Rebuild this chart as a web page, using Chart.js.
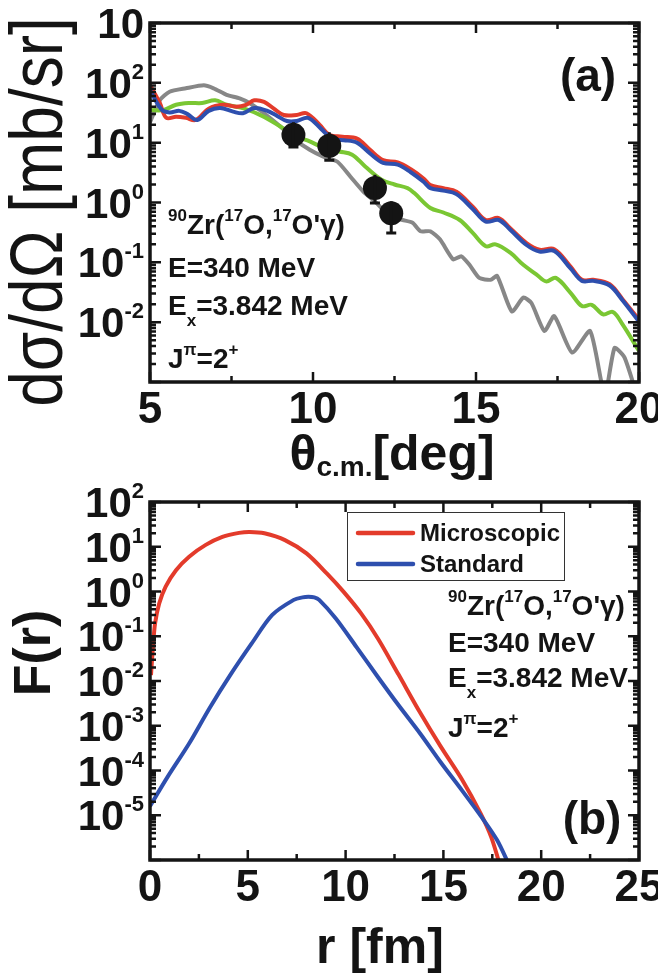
<!DOCTYPE html>
<html lang="en">
<head>
<meta charset="UTF-8">
<title>90Zr(17O,17O'γ) E=340 MeV</title>
<script src="https://cdn.jsdelivr.net/npm/chart.js"></script>
<style>
    body { margin: 0; background: #fff; }
    #wrap { position: relative; width: 658px; height: 979px; }
    canvas { position: absolute; left: 0; top: 0; }
</style>
</head>
<body>
<div id="wrap">
    <canvas id="chartA" width="658" height="979"></canvas>
    <canvas id="chartB" width="658" height="979"></canvas>
</div>
<script>
// ---------- panel (a): angular distribution, dsigma/dOmega [mb/sr] ----------
const thetaRed = [5.0, 5.3, 5.5, 5.8, 6.1, 6.4, 6.8, 7.25, 7.65, 7.95, 8.2, 8.5, 8.8, 9.1, 9.5, 9.8, 10.2, 10.5, 10.9, 11.35,
    11.75, 12.15, 12.6, 13.0, 13.4, 13.6, 14.0, 14.4, 14.9, 15.3, 15.7, 16.05, 16.55, 16.95, 17.4, 17.9, 18.25, 18.6, 19.1, 19.5, 20.0];
const sigmaRed = [91, 46, 26, 27, 26, 24, 37, 43, 40, 43, 51, 48, 37, 29, 29, 31, 20, 13.5, 12.6, 11.7,
    7.6, 5.1, 4.7, 3.6, 2.5, 1.95, 1.74, 1.51, 0.85, 0.51, 0.55, 0.37, 0.21, 0.162, 0.166, 0.085, 0.051, 0.051, 0.043, 0.024, 0.011];

const thetaBlue = [5.0, 5.35, 5.6, 5.9, 6.15, 6.45, 6.8, 7.15, 7.55, 7.85, 8.2, 8.6, 8.9, 9.2, 9.5, 9.85, 10.25, 10.6, 10.95, 11.35,
    11.75, 12.15, 12.6, 13.0, 13.4, 13.6, 14.0, 14.4, 14.9, 15.3, 15.7, 16.05, 16.55, 16.95, 17.4, 17.9, 18.25, 18.6, 19.1, 19.5, 20.0];
const sigmaBlue = [76, 36, 32, 34, 30, 24, 34, 38, 33, 31, 38, 34, 28, 23, 23, 26, 17, 11.5, 11, 10,
    6.6, 4.6, 4.3, 3.2, 2.2, 1.74, 1.58, 1.38, 0.78, 0.48, 0.51, 0.35, 0.195, 0.151, 0.155, 0.079, 0.049, 0.049, 0.041, 0.023, 0.0102];

const thetaGreen = [5.0, 5.4, 5.8, 6.2, 6.6, 7.0, 7.35, 7.9, 8.5, 9.0, 9.5, 9.9, 10.35, 10.8, 11.2, 11.6, 12.1, 12.5, 12.9, 13.1,
    13.6, 14.0, 14.5, 14.9, 15.3, 15.6, 16.05, 16.45, 16.85, 17.15, 17.45, 17.9, 18.25, 18.55, 18.9, 19.2, 19.5, 20.0];
const sigmaGreen = [35, 35, 43, 46, 46, 51, 43, 37, 27, 18.6, 12.6, 10.5, 8.1, 7.1, 6.3, 4.0, 2.4, 2.0, 1.74, 1.45,
    0.81, 0.68, 0.51, 0.31, 0.186, 0.2, 0.145, 0.091, 0.063, 0.048, 0.055, 0.031, 0.0186, 0.0195, 0.0135, 0.0148, 0.0091, 0.0033];

const thetaGray = [5.0, 5.3, 5.6, 6.1, 6.65, 6.95, 7.35, 7.75, 8.05, 8.5, 9.0, 9.4, 9.9, 10.3, 10.75, 11.15, 11.55, 11.95, 12.35, 12.75,
    13.05, 13.3, 13.6, 13.9, 14.3, 14.55, 14.8, 15.1, 15.45, 15.65, 16.1, 16.45, 16.7, 17.1, 17.4, 17.95, 18.5, 18.95, 19.25, 19.55, 19.9, 20.0];
const sigmaGray = [22, 51, 71, 81, 91, 81, 63, 55, 46, 31, 18.6, 11.7, 7.6, 5.9, 4.8, 2.7, 1.51, 0.98, 0.59, 0.51,
    0.46, 0.33, 0.33, 0.24, 0.112, 0.126, 0.091, 0.055, 0.051, 0.059, 0.0151, 0.0257, 0.0209, 0.0071, 0.0126, 0.0031, 0.0071, 0.0006, 0.0037, 0.0026, 0.0007, 0.0005];

// measured points with error bars
const thetaExp = [9.4, 10.5, 11.9, 12.4];
const sigmaExp = [13.5, 8.9, 1.74, 0.66];
const sigmaExpHi = [22, 15, 2.9, 1.05];
const sigmaExpLo = [8.5, 5.1, 0.98, 0.31];

const thetaTicks = [5, 10, 15, 20];
const sigmaTicks = [1e3, 1e2, 1e1, 1, 1e-1, 1e-2];
const sigmaTickExps = ['', '2', '1', '0', '-1', '-2'];

// ---------- panel (b): form factors F(r) ----------
const rMicro = [0.05, 0.15, 0.26, 0.47, 0.8, 1.33, 2.0, 2.85, 3.7, 4.55, 5.1, 5.85, 6.9, 8.0, 9.05, 9.9, 10.8, 11.65, 12.7, 13.8,
    14.85, 15.95, 16.9, 17.45, 17.95];
const fMicro = [0.0135, 0.058, 0.195, 0.54, 1.29, 3.0, 6.0, 11, 16.6, 20.4, 21.4, 20, 14.1, 7.1, 2.5, 0.98, 0.32, 0.089, 0.0141, 0.002,
    3.5e-4, 6.3e-5, 1.1e-5, 3.2e-6, 6.3e-7];

const rStd = [0.0, 0.9, 2.0, 3.05, 4.1, 5.2, 6.25, 7.35, 7.8, 8.1, 8.4, 8.65, 9.5, 10.55, 11.65, 12.7, 13.8, 14.85, 15.95, 17.0,
    17.75, 18.35];
const fStd = [1.6e-5, 7.2e-5, 4.0e-4, 2.5e-3, 0.0135, 0.069, 0.30, 0.65, 0.74, 0.76, 0.74, 0.65, 0.25, 0.058, 0.0123, 2.9e-3, 6.8e-4, 1.55e-4, 3.6e-5, 8.5e-6,
    2.75e-6, 7.9e-7];

const legendLabels = ['Microscopic', 'Standard'];

const rTicks = [0, 5, 10, 15, 20, 25];
const fTicks = [1e2, 1e1, 1, 1e-1, 1e-2, 1e-3, 1e-4, 1e-5];
const fTickExps = ['2', '1', '0', '-1', '-2', '-3', '-4', '-5'];

// ---------- drawing helpers ----------
const FONT = '"Liberation Sans", Arial, Helvetica, sans-serif';
const INK = '#141414';
const RED = '#e33b2b', BLUE = '#2e4fae', GREEN = '#7ac733', GRAY = '#878787';

function pts(xs, ys) {
    return xs.map((x, i) => ({x: x, y: ys[i]}));
}

// segs: [text, kind] with kind '' | 'sup' | 'sub'
function drawRich(ctx, segs, x, y, st) {
    const sizeOf = k => (k ? st.small : st.size);
    let w = 0;
    segs.forEach(([t, k]) => {
        ctx.font = `bold ${sizeOf(k)}px ${FONT}`;
        w += ctx.measureText(t).width;
    });
    let cx = st.align === 'right' ? x - w : st.align === 'center' ? x - w / 2 : x;
    ctx.textAlign = 'left';
    ctx.textBaseline = 'alphabetic';
    segs.forEach(([t, k]) => {
        ctx.font = `bold ${sizeOf(k)}px ${FONT}`;
        const dy = k === 'sup' ? -st.rise : k === 'sub' ? st.drop : 0;
        ctx.fillText(t, cx, y + dy);
        cx += ctx.measureText(t).width;
    });
}

function drawTurned(ctx, text, x, y, font, stretch) {
    ctx.save();
    ctx.translate(x, y);
    ctx.rotate(-Math.PI / 2);
    ctx.scale(1, stretch);
    ctx.font = font;
    ctx.textAlign = 'center';
    ctx.textBaseline = 'alphabetic';
    ctx.fillText(text, 0, 0);
    ctx.restore();
}

const annSty = {size: 28, small: 17, rise: 13, drop: 11};
const reactionText = [['90', 'sup'], ['Zr(', ''], ['17', 'sup'], ['O,', ''], ['17', 'sup'], ["O'γ)", '']];
const energyText = [['E=340 MeV', '']];
const excText = [['E', ''], ['x', 'sub'], ['=3.842 MeV', '']];
const spinText = [['J', ''], ['π', 'sup'], ['=2', ''], ['+', 'sup']];

// frame with inward ticks on all sides, tick labels, titles, notes
const framePlugin = {
    id: 'frame',
    afterDraw(chart, args, o) {
        const {ctx, chartArea: a} = chart;
        const xs = chart.scales.x, ys = chart.scales.y;
        ctx.save();
        ctx.strokeStyle = INK;
        ctx.fillStyle = INK;

        ctx.lineWidth = 2.5;
        ctx.beginPath();
        for (let v = xs.min; v <= xs.max + 1e-9; v += o.xStep) {
            const px = xs.getPixelForValue(v);
            const len = Math.abs((v - xs.min) % o.xMajor) < 1e-6 ? 10 : 6;
            ctx.moveTo(px, a.bottom); ctx.lineTo(px, a.bottom - len);
            ctx.moveTo(px, a.top); ctx.lineTo(px, a.top + len);
        }
        const e0 = Math.round(Math.log10(ys.min)), e1 = Math.round(Math.log10(ys.max));
        for (let e = e0; e <= e1; e++) {
            for (let m = 1; m < 10; m++) {
                if (e === e1 && m > 1) break;
                const py = ys.getPixelForValue(m * Math.pow(10, e));
                const len = m === 1 ? 11 : 6;
                ctx.moveTo(a.left, py); ctx.lineTo(a.left + len, py);
                ctx.moveTo(a.right, py); ctx.lineTo(a.right - len, py);
            }
        }
        ctx.stroke();

        ctx.lineWidth = 3.5;
        ctx.strokeRect(a.left, a.top, a.right - a.left, a.bottom - a.top);

        // x tick labels
        ctx.font = `bold 44px ${FONT}`;
        ctx.textAlign = 'center';
        ctx.textBaseline = 'alphabetic';
        o.xTicks.forEach(v => ctx.fillText(String(v), xs.getPixelForValue(v), a.bottom + 41));

        // y tick labels 10^n
        o.yTicks.forEach((v, i) => {
            const py = ys.getPixelForValue(v);
            drawRich(ctx, [['10', ''], [o.yExps[i], 'sup']], 144, py + 15,
                {size: 42, small: 22, rise: 19, align: 'right'});
        });

        // axis titles
        o.titles(ctx, a);

        // notes
        o.notes.forEach(([segs, x, y]) => drawRich(ctx, segs, x, y, annSty));
        ctx.font = `bold 46px ${FONT}`;
        ctx.textAlign = 'center';
        ctx.textBaseline = 'middle';
        ctx.fillText(o.tag[0], o.tag[1], o.tag[2]);
        ctx.restore();
    }
};

// vertical error bars, cap only at the lower end (upper end sits under the marker)
const errorBarPlugin = {
    id: 'errbars',
    afterDatasetsDraw(chart) {
        const {ctx} = chart;
        const xs = chart.scales.x, ys = chart.scales.y;
        ctx.save();
        ctx.strokeStyle = INK;
        ctx.lineWidth = 3;
        ctx.beginPath();
        thetaExp.forEach((t, i) => {
            const px = xs.getPixelForValue(t);
            const hi = ys.getPixelForValue(sigmaExpHi[i]);
            const lo = ys.getPixelForValue(sigmaExpLo[i]);
            ctx.moveTo(px, hi); ctx.lineTo(px, lo);
            ctx.moveTo(px - 5, lo); ctx.lineTo(px + 5, lo);
        });
        ctx.stroke();
        ctx.restore();
    }
};

const legendPlugin = {
    id: 'boxlegend',
    afterDraw(chart) {
        const {ctx} = chart;
        const colors = [RED, BLUE];
        ctx.save();
        ctx.fillStyle = '#fff';
        ctx.fillRect(347, 512, 217, 68);
        ctx.strokeStyle = '#333';
        ctx.lineWidth = 1;
        ctx.strokeRect(347.5, 512.5, 217, 68);
        legendLabels.forEach((lab, i) => {
            const y = 533 + i * 31;
            ctx.strokeStyle = colors[i];
            ctx.lineWidth = 4.5;
            ctx.lineCap = 'round';
            ctx.beginPath();
            ctx.moveTo(358, y); ctx.lineTo(413, y);
            ctx.stroke();
            ctx.fillStyle = INK;
            ctx.font = `bold 24px ${FONT}`;
            ctx.textAlign = 'left';
            ctx.textBaseline = 'middle';
            ctx.fillText(lab, 420, y + 1);
        });
        ctx.restore();
    }
};

function curve(data, color, tension) {
    return {data: data, borderColor: color, borderWidth: 4, pointRadius: 0, tension: tension,
        fill: false, clip: 0, borderJoinStyle: 'round'};
}

// ---------- chart (a) ----------
new Chart(document.getElementById('chartA'), {
    type: 'line',
    data: {
        datasets: [
            {data: pts(thetaExp, sigmaExp), showLine: false, pointRadius: 12, pointStyle: 'circle',
                pointBackgroundColor: INK, pointBorderWidth: 0, clip: false},
            curve(pts(thetaBlue, sigmaBlue), BLUE, 0.35),
            curve(pts(thetaRed, sigmaRed), RED, 0.35),
            curve(pts(thetaGreen, sigmaGreen), GREEN, 0.35),
            curve(pts(thetaGray, sigmaGray), GRAY, 0.2)
        ]
    },
    options: {
        responsive: false,
        animation: false,
        devicePixelRatio: 1,
        layout: {padding: {left: 150, right: 19, top: 23, bottom: 597}},
        scales: {
            x: {type: 'linear', display: false, min: 5, max: 20},
            y: {type: 'logarithmic', display: false, min: 1e-3, max: 1e3}
        },
        plugins: {
            legend: {display: false},
            tooltip: {enabled: false},
            frame: {
                xStep: 2.5, xMajor: 5,
                xTicks: thetaTicks, yTicks: sigmaTicks, yExps: sigmaTickExps,
                titles(ctx, a) {
                    drawTurned(ctx, 'dσ/dΩ [mb/sr]', 62, 212, `normal 64px ${FONT}`, 1.15);
                    drawRich(ctx, [['θ', ''], ['c.m.', 'sub'], ['[deg]', '']], 392, 470,
                        {size: 50, small: 28, drop: 6, align: 'center'});
                },
                notes: [[reactionText, 168, 234], [energyText, 168, 277], [excText, 168, 315], [spinText, 168, 368]],
                tag: ['(a)', 588, 78]
            }
        }
    },
    plugins: [errorBarPlugin, framePlugin]
});

// ---------- chart (b) ----------
new Chart(document.getElementById('chartB'), {
    type: 'line',
    data: {
        datasets: [
            Object.assign(curve(pts(rStd, fStd), BLUE, 0.3), {label: legendLabels[1]}),
            Object.assign(curve(pts(rMicro, fMicro), RED, 0.3), {label: legendLabels[0]})
        ]
    },
    options: {
        responsive: false,
        animation: false,
        devicePixelRatio: 1,
        layout: {padding: {left: 150, right: 19, top: 502, bottom: 119}},
        scales: {
            x: {type: 'linear', display: false, min: 0, max: 25},
            y: {type: 'logarithmic', display: false, min: 1e-6, max: 1e2}
        },
        plugins: {
            legend: {display: false},
            tooltip: {enabled: false},
            frame: {
                xStep: 2.5, xMajor: 5,
                xTicks: rTicks, yTicks: fTicks, yExps: fTickExps,
                titles(ctx, a) {
                    drawTurned(ctx, 'F(r)', 50, 653, `bold 52px ${FONT}`, 1.0);
                    drawRich(ctx, [['r [fm]', '']], 380, 963, {size: 50, small: 26, align: 'center'});
                },
                notes: [[reactionText, 448, 615], [energyText, 448, 652], [excText, 448, 687], [spinText, 448, 737]],
                tag: ['(b)', 592, 821]
            }
        }
    },
    plugins: [legendPlugin, framePlugin]
});
</script>
</body>
</html>
